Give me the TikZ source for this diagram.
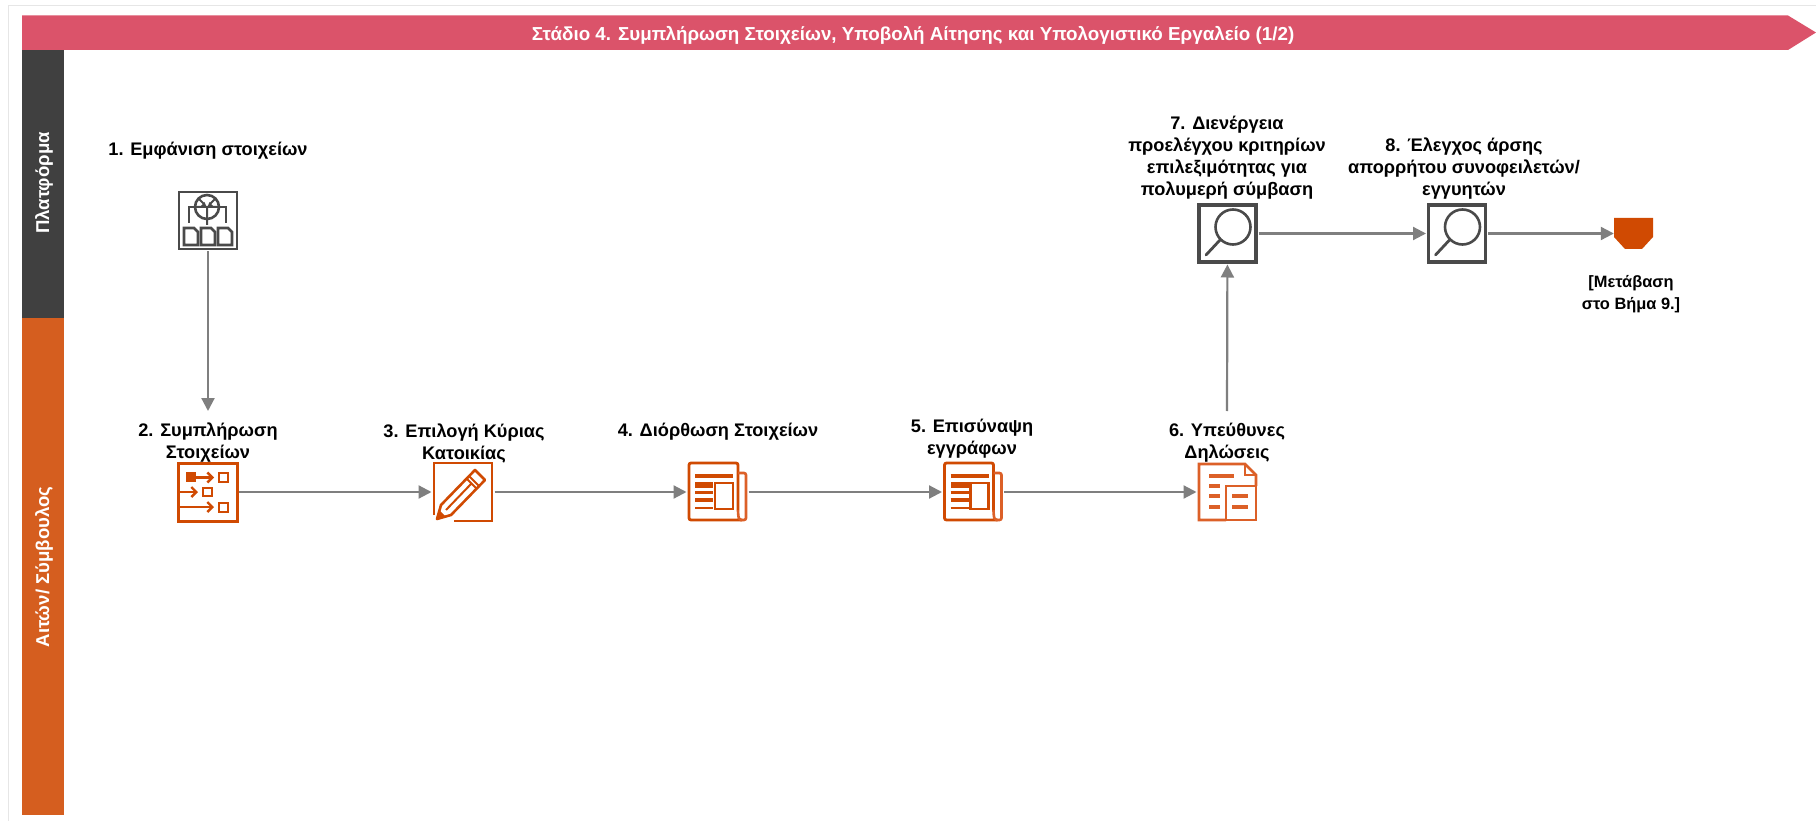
\documentclass[tikz,border=0pt]{standalone}
\usepackage{fontspec}
\setmainfont{Liberation Sans}
\usetikzlibrary{arrows.meta}
\definecolor{banner}{HTML}{DB536A}
\definecolor{darkbar}{HTML}{404040}
\definecolor{orangebar}{HTML}{D55E1F}
\definecolor{iconorange}{HTML}{D04A02}
\definecolor{iconlight}{HTML}{DC6028}
\definecolor{icongray}{HTML}{4A4A4A}
\definecolor{linegray}{HTML}{7F7F7F}
\definecolor{framegray}{HTML}{E6E6E6}
\tikzset{
  every node/.style={inner sep=0pt},
  steplabel/.style={align=center,text=black,font=\fontsize{18.2}{22}\selectfont\bfseries},
  sidelabel/.style={rotate=90,text=white,font=\fontsize{18.6}{20}\selectfont\bfseries},
  iconbox/.style={rectangle,minimum width=58pt,minimum height=58pt,outer sep=2.5pt},
  flow/.style={draw=linegray,line width=2.2pt,-{Triangle[length=13pt,width=13pt]}},
  tick/.style={line width=4pt},
  thin tick/.style={line width=2.8pt},
  chev/.style={-{Straight Barb[length=5pt,width=10pt,line width=2.4pt]}},
  docpic/.pic={
    \draw[line width=2.8pt,iconorange,rounded corners=2pt] (49,47) -- (49,0) -- (0,0) -- (0,57) -- (53,57);
    \draw[line width=2.6pt,iconlight,rounded corners=2pt] (49,10) -- (57,10) -- (57,57) -- (50,57) -- (49,50) -- (49,47);
    \draw[iconorange,tick] (6,13) -- (44,13);
    \fill[iconorange] (6,19) rectangle (24,24.5);
    \draw[iconorange,thin tick] (6,29.5) -- (24,29.5);
    \draw[iconorange,tick] (6,37) -- (24,37);
    \draw[iconorange,thin tick] (6,45) -- (24,45);
    \draw[iconorange,line width=2.8pt] (26,20) rectangle (44,46);
  },
  lenspic/.pic={
    \draw[icongray,line width=3.2pt] (0,0) rectangle (57,57);
    \draw[icongray,line width=2.6pt] (34,22) circle (17.5);
    \draw[icongray,line width=2.8pt,line cap=round] (21,35) -- (7,50);
  },
  sourcepic/.pic={
    \draw[icongray,line width=2.8pt] (0,0) rectangle (58,57);
    \draw[icongray,line width=2.6pt] (28,15) circle (12);
    \draw[icongray,line width=2pt] (19.5,6.5) -- (25,12) (36.5,6.5) -- (31,12) (16,15) -- (28,15) -- (40,15) (28,15) -- (28,33);
    \fill[icongray] (28,16) -- (22,14) -- (25.5,10) -- cycle (28,16) -- (34,14) -- (30.5,10) -- cycle;
    \draw[icongray,line width=2.2pt] (16,15) -- (10,15) -- (10,31) (40,15) -- (47,15) -- (47,31);
    \foreach \dx in {5,22,39}{
      \draw[icongray,line width=2.6pt] (\dx,36) -- (\dx+10,36) -- (\dx+14,40) -- (\dx+14,53) -- (\dx,53) -- cycle;
    }
  },
  formpic/.pic={
    \draw[iconorange,line width=3pt] (0,0) rectangle (59,58);
    \fill[iconorange] (8,9) rectangle (18,19);
    \draw[iconorange,line width=2.4pt,chev] (17,14.5) -- (36,14.5);
    \draw[iconorange,line width=2.6pt] (41,10) rectangle (50,19);
    \draw[iconorange,line width=2.4pt,chev] (0,29) -- (20,29);
    \draw[iconorange,line width=2.6pt] (25,25) rectangle (34,33);
    \draw[iconorange,line width=2.4pt,chev] (0,44) -- (36,44);
    \draw[iconorange,line width=2.6pt] (41,40) rectangle (50,49);
  },
  pencilpic/.pic={
    \draw[iconorange,line width=2.8pt] (0,52) -- (0,0) -- (58,0) -- (58,58) -- (20,58);
    \draw[iconorange,line width=2.6pt,line join=round] (41,7) -- (51,17) -- (17,52) -- (3,56) -- (7,42) -- cycle;
    \draw[iconorange,line width=2pt] (35,13) -- (45,23) (32.5,15.5) -- (42.5,25.5) (37,21) -- (12,47);
    \fill[iconorange] (3,56) -- (5,47) -- (12,54) -- cycle;
  },
  formspic/.pic={
    \draw[iconlight,line width=2.8pt] (27,56) -- (0,56) -- (0,0) -- (46,0) -- (57,11) -- (57,22);
    \draw[iconlight,line width=2.8pt] (46,0) -- (46,11) -- (57,11);
    \draw[iconlight,line width=2.8pt] (27,22) rectangle (57,56);
    \draw[iconlight,tick] (10,12) -- (35,12) (10,22) -- (21,22) (10,32) -- (21,32) (10,43) -- (21,43) (33,32) -- (49,32) (33,43) -- (49,43);
  }
}
\begin{document}
\begin{tikzpicture}[x=1pt,y=-1pt]
\useasboundingbox (0,0) rectangle (1816,821);
\fill[white] (0,0) rectangle (1816,821);
\draw[framegray,line width=1.6pt] (1816,5.5) -- (8.5,5.5) -- (8.5,821);

% banner and side bars
\fill[banner] (22,15.5) -- (1788,15.5) -- (1816,32.5) -- (1788,50) -- (22,50) -- cycle;
\node[text=white,font=\fontsize{18.8}{20}\selectfont\bfseries] (title) at (913,35) {Στάδιο 4. Συμπλήρωση Στοιχείων, Υποβολή Αίτησης και Υπολογιστικό Εργαλείο (1/2)};
\fill[darkbar] (22,50) rectangle (63.5,318);
\fill[orangebar] (22,318) rectangle (63.5,815);
\node[sidelabel] (lane1) at (44,183) {Πλατφόρμα};
\node[sidelabel] (lane2) at (44,567) {Αιτών/ Σύμβουλος};

% icon anchors
\node[iconbox] (n1) at (208,220) {};
\node[iconbox] (n2) at (207.5,492) {};
\node[iconbox] (n3) at (463,492) {};
\node[iconbox,minimum width=57pt] (n4) at (717.5,492) {};
\node[iconbox,minimum width=57pt] (n5) at (973,492) {};
\node[iconbox,minimum width=57pt] (n6) at (1227.5,492) {};
\node[iconbox,minimum width=57pt,minimum height=57pt] (n7) at (1227.5,233.5) {};
\node[iconbox,minimum width=57pt,minimum height=57pt] (n8) at (1457,233.5) {};
\node[rectangle,minimum width=39pt,minimum height=31pt] (off) at (1633.5,233.5) {};

% icons
\pic at (179,192) {sourcepic};
\pic at (178,463) {formpic};
\pic at (434,463) {pencilpic};
\pic at (689,463) {docpic};
\pic at (944.5,463) {docpic};
\pic at (1199,464) {formspic};
\pic at (1199,205) {lenspic};
\pic at (1428.5,205) {lenspic};
\fill[iconorange] (1614,218) -- (1653,218) -- (1653,237) -- (1642,249) -- (1625,249) -- (1614,237) -- cycle;

% labels
\node[steplabel] (l1) at (208,151) {1. Εμφάνιση στοιχείων};
\node[steplabel] (l2) at (208,443) {2. Συμπλήρωση\\Στοιχείων};
\node[steplabel] (l3) at (464,443) {3. Επιλογή Κύριας\\Κατοικίας};
\node[steplabel] (l4) at (718,432) {4. Διόρθωση Στοιχείων};
\node[steplabel] (l5) at (972,439) {5. Επισύναψη\\εγγράφων};
\node[steplabel] (l6) at (1227,443) {6. Υπεύθυνες\\Δηλώσεις};
\node[steplabel] (l7) at (1227,157.5) {7. Διενέργεια\\προελέγχου κριτηρίων\\επιλεξιμότητας για\\πολυμερή σύμβαση};
\node[steplabel] (l8) at (1464,168.5) {8. Έλεγχος άρσης\\απορρήτου συνοφειλετών/\\εγγυητών};
\node[align=center,text=black,font=\fontsize{16.4}{22}\selectfont\bfseries] (l9) at (1631,294) {[Μετάβαση\\στο Βήμα 9.]};

% connectors
\coordinate (upstart) at (1227,411);
\coordinate (downend) at (208,411);
\draw[flow] (n1) -- (downend);
\draw[flow] (n2) -- (n3);
\draw[flow] (n3) -- (n4);
\draw[flow] (n4) -- (n5);
\draw[flow] (n5) -- (n6);
\draw[flow] (upstart) -- (n7);
\draw[flow] (n7) -- (n8);
\draw[flow] (n8) -- (off);
\end{tikzpicture}
\end{document}
